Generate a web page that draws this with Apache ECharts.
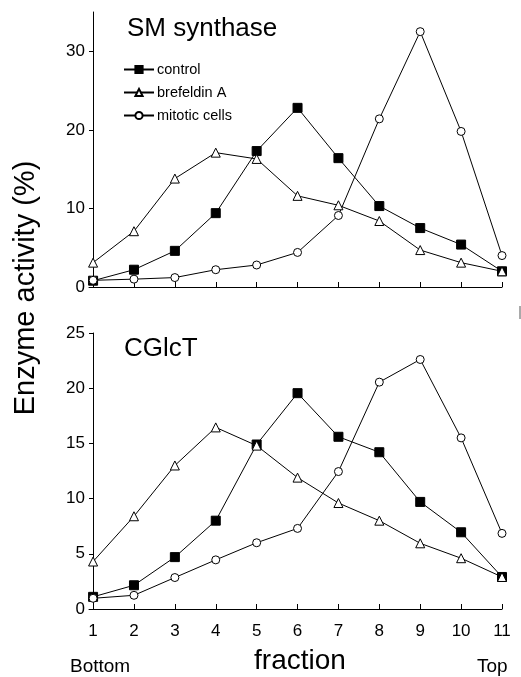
<!DOCTYPE html>
<html>
<head>
<meta charset="utf-8">
<script src="https://cdn.jsdelivr.net/npm/echarts@6/dist/echarts.min.js"></script>
<style>
html,body{margin:0;padding:0;background:#fff;}
#chart{width:521px;height:677px;}
</style>
</head>
<body>
<div id="chart"></div>
<script>
const fractions = [1, 2, 3, 4, 5, 6, 7, 8, 9, 10, 11];
const seriesNames = ['control', 'brefeldin A', 'mitotic cells'];

// SM synthase panel
const smControl   = [0.8, 2.2, 4.6, 9.4, 17.3, 22.8, 16.4, 10.3, 7.5, 5.4, 2.0];
const smBrefeldin = [3.1, 7.1, 13.8, 17.1, 16.3, 11.6, 10.4, 8.4, 4.7, 3.1, 2.0];
const smMitotic   = [0.85, 1.0, 1.2, 2.2, 2.8, 4.4, 9.1, 21.4, 32.5, 19.8, 4.0];

// CGlcT panel
const gcControl   = [1.1, 2.15, 4.7, 8.0, 14.9, 19.55, 15.6, 14.2, 9.7, 6.95, 2.9];
const gcBrefeldin = [4.3, 8.4, 13.0, 16.45, 14.8, 11.9, 9.6, 8.0, 5.95, 4.6, 2.9];
const gcMitotic   = [0.97, 1.24, 2.85, 4.45, 6.0, 7.3, 12.45, 20.55, 22.6, 15.5, 6.85];

const smTicks = [0, 10, 20, 30];
const gcTicks = [0, 5, 10, 15, 20, 25];

const FONT = 'Liberation Sans, Arial, sans-serif';

function pairs(vals) { return fractions.map((f, i) => [f, vals[i]]); }

function mk(name, vals, idx) {
  const styles = {
    'control':       { symbol: 'rect',     size: 9, fill: '#000' },
    'brefeldin A':   { symbol: 'triangle', size: 9, fill: '#fff' },
    'mitotic cells': { symbol: 'circle',   size: 8, fill: '#fff' }
  }[name];
  return {
    type: 'line',
    name: name,
    xAxisIndex: idx,
    yAxisIndex: idx,
    data: pairs(vals),
    symbol: styles.symbol,
    symbolSize: styles.size,
    showAllSymbol: true,
    lineStyle: { color: '#000', width: 1 },
    itemStyle: { color: styles.fill, borderColor: '#000', borderWidth: 1 },
    emphasis: { disabled: true },
    animation: false
  };
}

function xAxisCfg(idx, showLabels) {
  return {
    type: 'value', gridIndex: idx, min: 0.9, max: 11,
    axisLine: { show: true, lineStyle: { color: '#000', width: 1 } },
    axisTick: { show: true, inside: true, length: 5, lineStyle: { color: '#000' }, customValues: fractions },
    axisLabel: { show: showLabels, customValues: fractions, fontSize: 17, color: '#000', fontFamily: FONT, margin: 14 },
    splitLine: { show: false }
  };
}

function yAxisCfg(idx, max, ticks) {
  return {
    type: 'value', gridIndex: idx, min: 0, max: max, offset: -4,
    axisLine: { show: true, lineStyle: { color: '#000', width: 1 } },
    axisTick: { show: true, inside: false, length: 4, lineStyle: { color: '#000' }, customValues: ticks },
    axisLabel: { customValues: ticks, fontSize: 17, color: '#000', fontFamily: FONT, margin: 8 },
    splitLine: { show: false }
  };
}

const chart = echarts.init(document.getElementById('chart'), null, { renderer: 'canvas' });
chart.setOption({
  backgroundColor: '#fff',
  animation: false,
  textStyle: { fontFamily: FONT },
  grid: [
    { left: 89, right: 19, top: 12, height: 275 },
    { left: 89, right: 19, top: 333, height: 276 }
  ],
  xAxis: [xAxisCfg(0, false), xAxisCfg(1, true)],
  yAxis: [yAxisCfg(0, 35, smTicks), yAxisCfg(1, 25, gcTicks)],
  title: [
    { text: 'SM synthase', left: 127, top: 16, padding: 0,
      textStyle: { fontSize: 26, fontWeight: 'normal', color: '#000', fontFamily: FONT } },
    { text: 'CGlcT', left: 124, top: 336, padding: 0,
      textStyle: { fontSize: 26, fontWeight: 'normal', color: '#000', fontFamily: FONT } }
  ],
  legend: {
    data: seriesNames,
    orient: 'vertical',
    left: 123, top: 62,
    padding: 0,
    itemWidth: 30, itemHeight: 9, itemGap: 8,
    selectedMode: false,
    textStyle: { fontSize: 14.5, color: '#000', fontFamily: FONT, padding: [0, 0, 0, -2] }
  },
  graphic: [
    { type: 'text', x: 26, y: 288, rotation: Math.PI / 2,
      style: { text: 'Enzyme activity (%)', fontSize: 29, fill: '#000', fontFamily: FONT, align: 'center', verticalAlign: 'middle' } },
    { type: 'text', x: 300, y: 661,
      style: { text: 'fraction', fontSize: 28, fill: '#000', fontFamily: FONT, align: 'center', verticalAlign: 'middle' } },
    { type: 'text', x: 70, y: 667,
      style: { text: 'Bottom', fontSize: 19, fill: '#000', fontFamily: FONT, align: 'left', verticalAlign: 'middle' } },
    { type: 'text', x: 477, y: 667,
      style: { text: 'Top', fontSize: 19, fill: '#000', fontFamily: FONT, align: 'left', verticalAlign: 'middle' } },
    { type: 'line', shape: { x1: 520, y1: 306, x2: 520, y2: 319 },
      style: { stroke: '#555', lineWidth: 1 } }
  ],
  series: [
    mk('control', smControl, 0),
    mk('brefeldin A', smBrefeldin, 0),
    mk('mitotic cells', smMitotic, 0),
    mk('control', gcControl, 1),
    mk('brefeldin A', gcBrefeldin, 1),
    mk('mitotic cells', gcMitotic, 1)
  ]
});
</script>
</body>
</html>
